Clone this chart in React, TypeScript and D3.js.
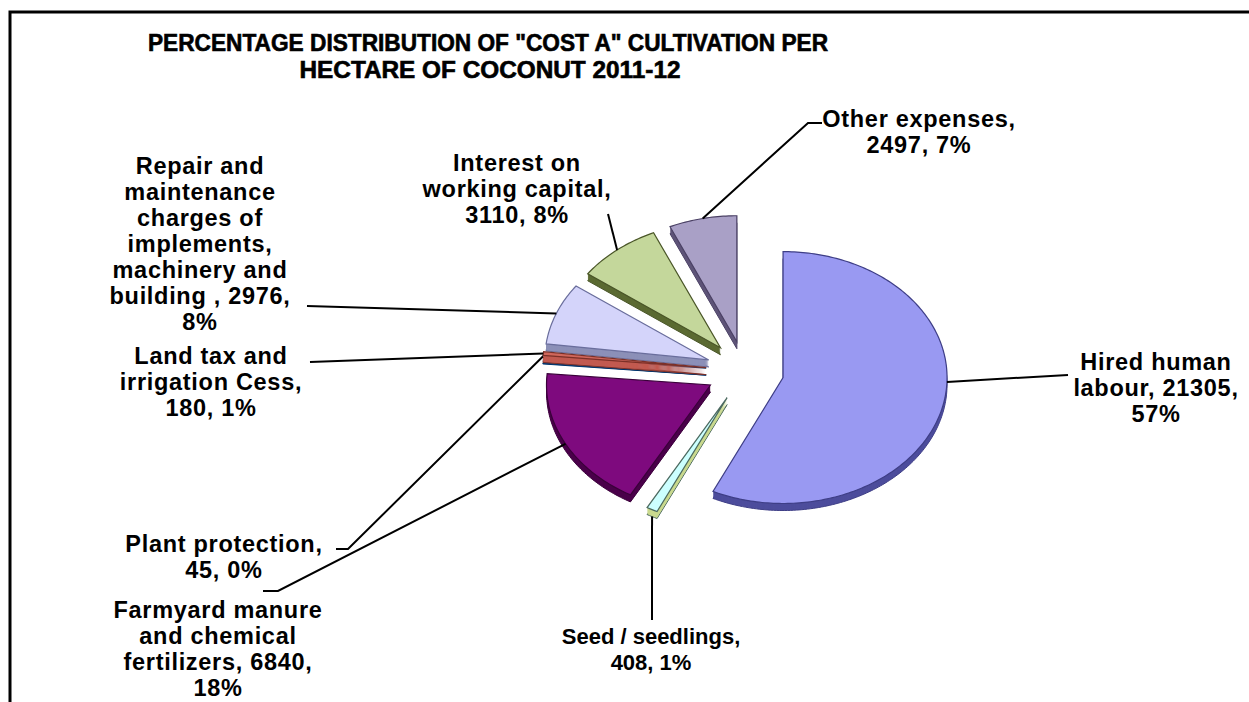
import React from 'react';
import * as d3 from 'd3';

// cost items of "Cost A" per hectare, coconut 2011-12 (Rs)
const categories = [
  'Hired human labour',
  'Seed / seedlings',
  'Farmyard manure and chemical fertilizers',
  'Plant protection',
  'Land tax and irrigation Cess',
  'Repair and maintenance charges of implements, machinery and building',
  'Interest on working capital',
  'Other expenses',
];
const values = [21305, 408, 6840, 45, 180, 2976, 3110, 2497];
const percents = ['57%', '1%', '18%', '0%', '1%', '8%', '8%', '7%'];

// label text as it wraps in the chart
const labelLines = [
  ['Hired human', 'labour, 21305,', '57%'],
  ['Seed / seedlings,', '408, 1%'],
  ['Farmyard manure', 'and chemical', 'fertilizers, 6840,', '18%'],
  ['Plant protection,', '45, 0%'],
  ['Land tax and', 'irrigation Cess,', '180, 1%'],
  ['Repair and', 'maintenance', 'charges of', 'implements,', 'machinery and', 'building , 2976,', '8%'],
  ['Interest on', 'working capital,', '3110, 8%'],
  ['Other expenses,', '2497, 7%'],
];

const topColors = ['#9999F2', '#CCFFFF', '#7E0A7E', '#0066CC', '#D0675C', '#D4D4FA', '#C4D79B', '#A9A0C6'];
const sideColors = ['#4D4D9C', '#C9D98E', '#4A004A', '#003F80', '#C25A50', '#8C90B8', '#5B6A32', '#5E5478'];
const edgeColors = ['#3E3E86', '#4C6A60', '#3A003A', '#00336A', '#7C3028', '#6A6E9C', '#4A5628', '#4A4064'];

// label placement: text centre x, first baseline, leader path after the slice
// (attach = angle in degrees where the leader leaves the slice, else mid-angle)
const labelLayout = [
  { x: 1156, y: 370, leader: [[1068, 375]], attach: 92 },
  { x: 651, y: 644, leader: [[652, 620]] },
  { x: 218, y: 618, leader: [[278, 591], [263, 591]] },
  { x: 224, y: 552, leader: [[348, 549], [336, 549]] },
  { x: 211, y: 364, leader: [[310, 362]] },
  { x: 200, y: 174, leader: [[307, 306]] },
  { x: 517, y: 171, leader: [[608, 214]] },
  { x: 919, y: 127, leader: [[808, 123], [822, 123]] },
];

const W = 1249;
const H = 702;
const cx = 745;
const cy = 371;
const rx = 164;
const tilt = 0.768;
const explode = 39;
const depth = 7;
const lineGap = 26;
const font = "'Liberation Sans', Arial, sans-serif";

export default function App() {
  const pie = d3.pie<number>().sort(null).startAngle(0).endAngle(2 * Math.PI);
  const arcs = pie(values);
  const r = d3.scaleLinear().domain([0, 1]).range([0, rx]);

  const proj = (a: number, rad: number, ox = 0, oy = 0): [number, number] => [
    ox + cx + rad * Math.sin(a),
    oy + cy - rad * Math.cos(a) * tilt,
  ];
  const line = d3.line();

  const slices = arcs.map((d, i) => {
    const mid = (d.startAngle + d.endAngle) / 2;
    const apex = proj(mid, explode);
    const ox = apex[0] - cx;
    const oy = apex[1] - cy;
    const pts: [number, number][] = [apex];
    const steps = Math.max(2, Math.ceil(((d.endAngle - d.startAngle) * 180) / Math.PI));
    for (let k = 0; k <= steps; k++) {
      const a = d.startAngle + ((d.endAngle - d.startAngle) * k) / steps;
      pts.push(proj(a, r(1), ox, oy));
    }
    const at = labelLayout[i].attach != null ? (labelLayout[i].attach * Math.PI) / 180 : mid;
    const outer = proj(at, r(1), ox, oy);
    return { i, d, mid: at, apex, path: line(pts) + 'Z', outer };
  });

  // back to front; the thin land-tax wedge sits over plant protection
  const order = [...slices].sort((a, b) => a.apex[1] + (a.i === 4 ? 2 : 0) - (b.apex[1] + (b.i === 4 ? 2 : 0)));

  return (
    <svg width={W} height={H} style={{ position: 'absolute', left: 0, top: 0, background: '#fff' }}>
      <rect x={10} y={12} width={1300} height={800} fill="#fff" stroke="#000" strokeWidth={3} />
      <g fontFamily={font} fontWeight="bold" fontSize={23} textAnchor="middle" stroke="#000" strokeWidth={0.6}>
        <text x={488} y={51} textLength={680} lengthAdjust="spacingAndGlyphs">
          PERCENTAGE DISTRIBUTION OF "COST A" CULTIVATION PER
        </text>
        <text x={490} y={78} textLength={381} lengthAdjust="spacingAndGlyphs">
          HECTARE OF COCONUT 2011-12
        </text>
      </g>

      {order.map((s) => (
        <g key={categories[s.i]}>
          {d3.range(depth, 0, -1).map((k) => (
            <path
              key={k}
              d={s.path}
              transform={`translate(0,${k})`}
              fill={sideColors[s.i]}
              stroke={k === depth ? edgeColors[s.i] : 'none'}
              strokeWidth={1}
            />
          ))}
          <path d={s.path} fill={topColors[s.i]} stroke={edgeColors[s.i]} strokeWidth={1.2} />
        </g>
      ))}

      {slices.map((s) => {
        const lay = labelLayout[s.i];
        const start: [number, number] = [s.outer[0], s.outer[1] + (Math.cos(s.mid) < -0.5 ? depth : 0)];
        return (
          <path
            key={'l' + s.i}
            d={line([start, ...(lay.leader as [number, number][])]) || ''}
            fill="none"
            stroke="#000"
            strokeWidth={2}
          />
        );
      })}

      <g fontFamily={font} fontWeight="bold" fontSize={23.5} letterSpacing={0.7} textAnchor="middle" fill="#000">
        {labelLines.map((lines, i) => (
          <text
            key={'t' + i}
            x={labelLayout[i].x}
            y={labelLayout[i].y}
            fontSize={i === 1 ? 22 : 23.5}
            letterSpacing={i === 1 ? 0 : 0.7}
          >
            {lines.map((t, j) => (
              <tspan key={j} x={labelLayout[i].x} y={labelLayout[i].y + j * lineGap}>
                {t}
              </tspan>
            ))}
          </text>
        ))}
      </g>
    </svg>
  );
}
